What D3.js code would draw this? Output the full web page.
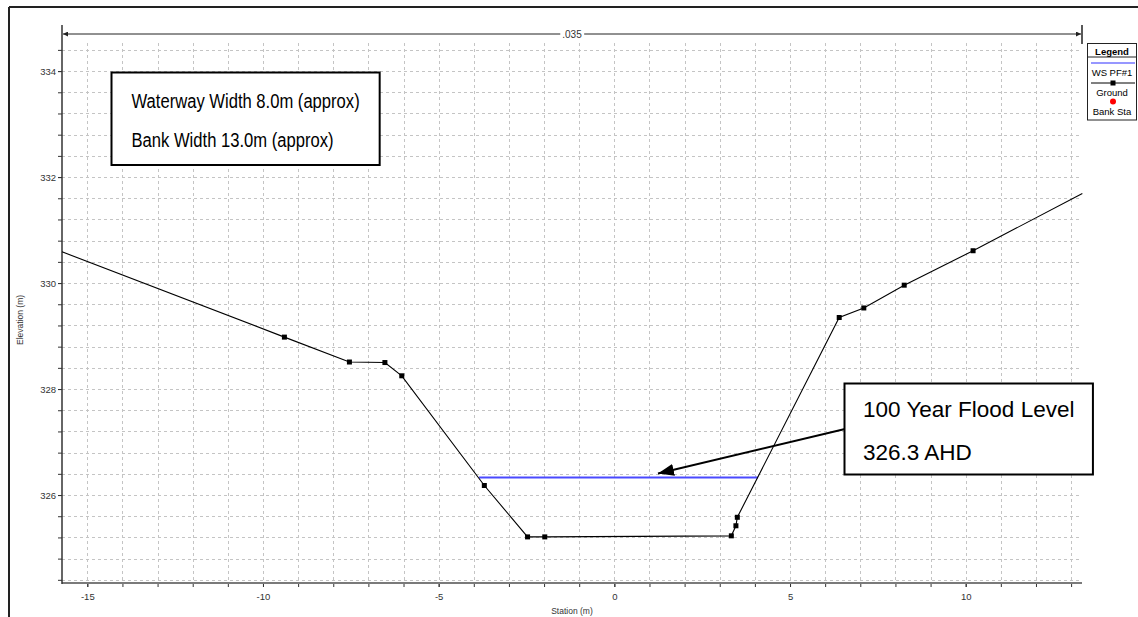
<!DOCTYPE html>
<html><head><meta charset="utf-8">
<script src="https://cdn.jsdelivr.net/npm/d3@7"></script>
<style>
html,body{margin:0;padding:0;background:#fff;}
svg{display:block;font-family:"Liberation Sans",Arial,sans-serif;}
</style></head>
<body>
<svg id="chart" width="1138" height="617"></svg>
<script>
// ---- data ----
const groundStation = [-15.72, -9.39, -7.54, -6.53, -6.05, -3.70, -2.47, -1.98, 3.33, 3.46, 3.50, 6.40, 7.10, 8.25, 10.21, 13.32];
const groundElev    = [330.59, 328.98, 328.51, 328.50, 328.25, 326.18, 325.21, 325.21, 325.23, 325.42, 325.58, 329.35, 329.53, 329.96, 330.61, 331.69];
const wsStation = [-3.85, 4.09];
const wsElev = [326.33, 326.33];
const xMajorTicks = [-15, -10, -5, 0, 5, 10];
const xMinorTicks = [-15,-14,-13,-12,-11,-10,-9,-8,-7,-6,-5,-4,-3,-2,-1,0,1,2,3,4,5,6,7,8,9,10,11,12,13];
const yMajorTicks = [326, 328, 330, 332, 334];
const yMinorTicks = [324.4,324.8,325.2,325.6,326,326.4,326.8,327.2,327.6,328,328.4,328.8,329.2,329.6,330,330.4,330.8,331.2,331.6,332,332.4,332.8,333.2,333.6,334,334.4];
const manningN = [".035"];
const noteLines1 = ["Waterway Width 8.0m (approx)", "Bank Width 13.0m (approx)"];
const noteLines2 = ["100 Year Flood Level", "326.3 AHD"];
const legendItems = ["WS PF#1", "Ground", "Bank Sta"];
const xDomain = [-15.72, 13.31];
const yDomain = [324.34, 334.53];

const svg = d3.select("#chart");
const L = 62, R = 1082, T = 43, B = 583;
const x = d3.scaleLinear().domain(xDomain).range([L, R]);
const y = d3.scaleLinear().domain(yDomain).range([B, T]);

// outer frame
svg.append("line").attr("x1", 9).attr("y1", 7).attr("x2", 1138).attr("y2", 7).attr("stroke", "#222").attr("stroke-width", 2);
svg.append("line").attr("x1", 9).attr("y1", 7).attr("x2", 9).attr("y2", 617).attr("stroke", "#222").attr("stroke-width", 2);

// grid
const grid = svg.append("g").attr("stroke", "#c4c4c4").attr("stroke-dasharray", "3,3").attr("stroke-width", 1);
grid.selectAll(".vg").data(xMinorTicks).join("line")
  .attr("x1", d => Math.round(x(d)) + 0.5).attr("x2", d => Math.round(x(d)) + 0.5)
  .attr("y1", T).attr("y2", B);
grid.selectAll(".hg").data(yMinorTicks).join("line")
  .attr("x1", L).attr("x2", R)
  .attr("y1", d => Math.round(y(d)) + 0.5).attr("y2", d => Math.round(y(d)) + 0.5);

// axes
const fmt = d => String(d);
const xAxisMinor = d3.axisBottom(x).tickValues(xMinorTicks).tickSize(4).tickFormat("");
const xAxisMajor = d3.axisBottom(x).tickValues(xMajorTicks).tickSize(4).tickPadding(6).tickFormat(fmt);
const yAxisMinor = d3.axisLeft(y).tickValues(yMinorTicks).tickSize(4).tickFormat("");
const yAxisMajor = d3.axisLeft(y).tickValues(yMajorTicks).tickSize(4).tickPadding(2).tickFormat(fmt);

function styleAxis(g) {
  g.select(".domain").remove();
  g.selectAll(".tick line").attr("stroke", "#333");
  g.selectAll("text").attr("font-size", "9.5px").attr("fill", "#333").attr("font-family", "Liberation Sans, Arial, sans-serif");
}
svg.append("g").attr("transform", `translate(0,${B})`).call(xAxisMinor).call(styleAxis);
svg.append("g").attr("transform", `translate(0,${B})`).call(xAxisMajor).call(styleAxis);
svg.append("g").attr("transform", `translate(${L},0)`).call(yAxisMinor).call(styleAxis);
svg.append("g").attr("transform", `translate(${L},0)`).call(yAxisMajor).call(styleAxis);

// axis lines
svg.append("line").attr("x1", L).attr("x2", R).attr("y1", B).attr("y2", B).attr("stroke", "#7a7a7a").attr("stroke-width", 2);
svg.append("line").attr("x1", L).attr("x2", L).attr("y1", 25).attr("y2", B + 1).attr("stroke", "#333").attr("stroke-width", 1.5);

// axis titles
svg.append("text").attr("x", (L + R) / 2).attr("y", 614).attr("text-anchor", "middle")
  .attr("font-size", "8.5px").attr("fill", "#333").text("Station (m)");
svg.append("text").attr("transform", "translate(23,320) rotate(-90)").attr("text-anchor", "middle")
  .attr("font-size", "8.5px").attr("fill", "#333").text("Elevation (m)");

// Manning's n bracket
const defs = svg.append("defs");
defs.append("marker").attr("id", "smallArrow").attr("viewBox", "0 0 10 10").attr("refX", 10).attr("refY", 5)
  .attr("markerWidth", 6).attr("markerHeight", 5).attr("markerUnits", "userSpaceOnUse").attr("orient", "auto-start-reverse")
  .append("path").attr("d", "M0,0 L10,5 L0,10 z").attr("fill", "#222");
const brY = 34;
svg.append("line").attr("x1", R).attr("x2", R).attr("y1", 25).attr("y2", 44).attr("stroke", "#222").attr("stroke-width", 1.5);
svg.append("line").attr("x1", L + 1).attr("x2", R - 1).attr("y1", brY).attr("y2", brY).attr("stroke", "#222").attr("stroke-width", 1)
  .attr("marker-start", "url(#smallArrow)").attr("marker-end", "url(#smallArrow)");
const nBg = svg.append("rect").attr("fill", "#fff");
const nText = svg.append("text").attr("x", (L + R) / 2).attr("y", brY + 3.5).attr("text-anchor", "middle")
  .attr("font-size", "10px").attr("fill", "#333").text(manningN[0]);
const nb = nText.node().getBBox();
nBg.attr("x", nb.x - 2).attr("y", brY - 2).attr("width", nb.width + 4).attr("height", 4);

// water surface
svg.append("path").datum(wsStation.map((s, i) => [s, wsElev[i]]))
  .attr("d", d3.line().x(d => x(d[0])).y(d => y(d[1])))
  .attr("fill", "none").attr("stroke", "#4a4aff").attr("stroke-width", 2);

// ground
const ground = groundStation.map((s, i) => [s, groundElev[i]]);
svg.append("path").datum(ground)
  .attr("d", d3.line().x(d => x(d[0])).y(d => y(d[1])))
  .attr("fill", "none").attr("stroke", "#000").attr("stroke-width", 1.1);
svg.selectAll(".gm").data(ground.slice(1, -1)).join("rect")
  .attr("x", d => x(d[0]) - 2.5).attr("y", d => y(d[1]) - 2.5).attr("width", 5).attr("height", 5).attr("fill", "#000");

// note boxes
function noteBox(lines, bx, by, bh, tx, baselines, fs, squeeze) {
  const g = svg.append("g");
  const rect = g.append("rect").attr("fill", "#fff").attr("stroke", "#000").attr("stroke-width", 2);
  let maxW = 0;
  lines.forEach((t, i) => {
    const te = g.append("text").attr("x", tx).attr("y", baselines[i]).attr("font-size", fs + "px").attr("fill", "#000").text(t);
    let w = te.node().getComputedTextLength();
    if (squeeze !== 1) {
      w = w * squeeze;
      te.attr("textLength", w).attr("lengthAdjust", "spacingAndGlyphs");
    }
    maxW = Math.max(maxW, w);
  });
  const bw = (tx - bx) * 2 + maxW;
  rect.attr("x", bx).attr("y", by).attr("width", bw).attr("height", bh);
  return bw;
}
noteBox(noteLines1, 111.5, 72.5, 92.5, 131.5, [108, 147], 20, 0.83);

// arrow annotation
defs.append("marker").attr("id", "bigArrow").attr("viewBox", "0 0 16 12").attr("refX", 16).attr("refY", 6)
  .attr("markerWidth", 16).attr("markerHeight", 12).attr("markerUnits", "userSpaceOnUse").attr("orient", "auto")
  .append("path").attr("d", "M0,0 L16,6 L0,12 z").attr("fill", "#000");
svg.append("line").attr("x1", 845).attr("y1", 429).attr("x2", 658).attr("y2", 473.5)
  .attr("stroke", "#000").attr("stroke-width", 2).attr("marker-end", "url(#bigArrow)");

noteBox(noteLines2, 844.5, 383.5, 91, 863, [417, 460], 22.5, 1);

// legend
const lg = svg.append("g");
lg.append("rect").attr("x", 1087.5).attr("y", 43.5).attr("width", 49).attr("height", 76.5).attr("fill", "#fff").attr("stroke", "#222").attr("stroke-width", 1);
lg.append("line").attr("x1", 1087.5).attr("x2", 1136.5).attr("y1", 57).attr("y2", 57).attr("stroke", "#222");
lg.append("text").attr("x", 1112).attr("y", 55).attr("text-anchor", "middle").attr("font-size", "9.5px").attr("font-weight", "bold").attr("fill", "#000").text("Legend");
lg.append("line").attr("x1", 1091).attr("x2", 1135).attr("y1", 63).attr("y2", 63).attr("stroke", "#3030ff").attr("stroke-width", 1.2);
lg.append("text").attr("x", 1112).attr("y", 76).attr("text-anchor", "middle").attr("font-size", "9.5px").attr("fill", "#000").text(legendItems[0]);
lg.append("line").attr("x1", 1091).attr("x2", 1135).attr("y1", 83).attr("y2", 83).attr("stroke", "#000").attr("stroke-width", 1);
lg.append("rect").attr("x", 1110.5).attr("y", 80.5).attr("width", 5).attr("height", 5).attr("fill", "#000");
lg.append("text").attr("x", 1112).attr("y", 96).attr("text-anchor", "middle").attr("font-size", "9.5px").attr("fill", "#000").text(legendItems[1]);
lg.append("circle").attr("cx", 1113).attr("cy", 101.5).attr("r", 3).attr("fill", "#ff0000");
lg.append("text").attr("x", 1112).attr("y", 115).attr("text-anchor", "middle").attr("font-size", "9.5px").attr("fill", "#000").text(legendItems[2]);
</script>
</body></html>
